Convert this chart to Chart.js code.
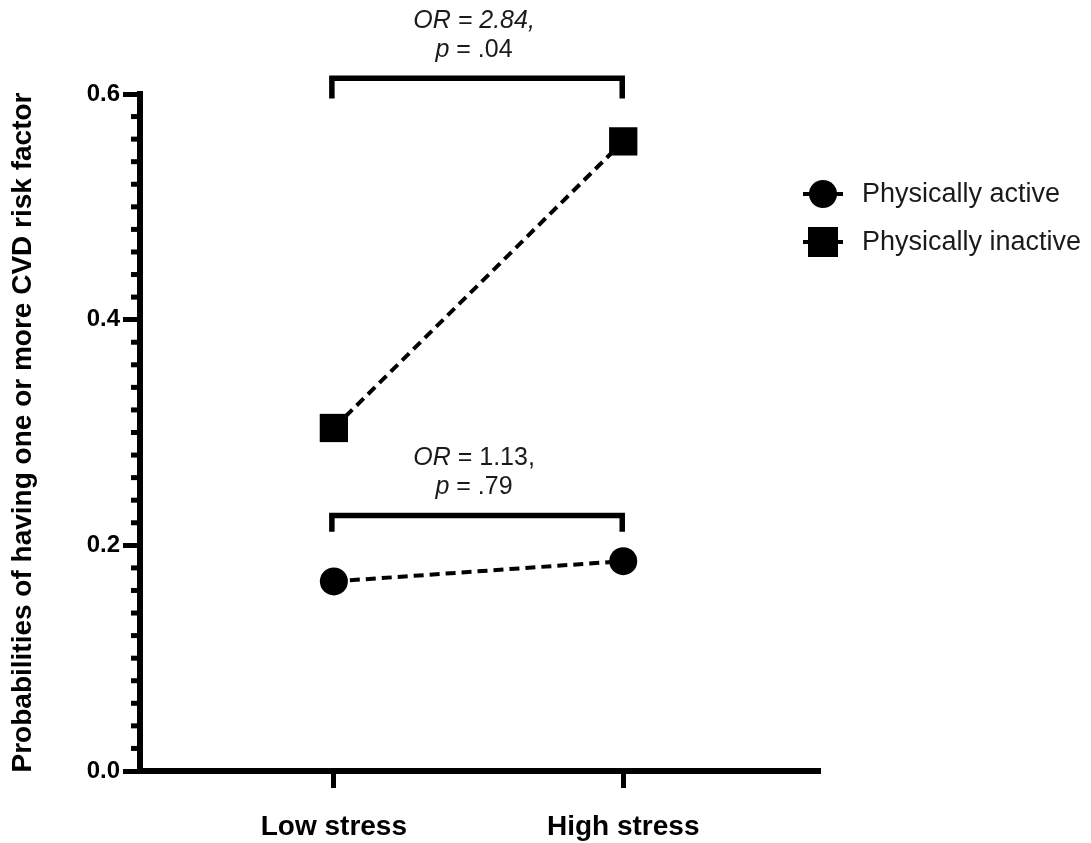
<!DOCTYPE html>
<html>
<head>
<meta charset="utf-8">
<script src="https://cdn.jsdelivr.net/npm/chart.js@4.4.1/dist/chart.umd.min.js"></script>
<style>
  html, body { margin: 0; padding: 0; background: #fff; }
  canvas { display: block; }
</style>
</head>
<body>
<canvas id="chart" width="1091" height="843"></canvas>
<script>
// values
const categories = ["Low stress", "High stress"];
const seriesNames = ["Physically active", "Physically inactive"];
const activeValues = [0.168, 0.186];
const inactiveValues = [0.304, 0.558];
const yTitle = "Probabilities of having one or more CVD risk factor";

// comparison notes: lines of [text, italic] pieces
const inactiveNote = [[["OR = 2.84,", true]], [["p", true], [" = .04", false]]];
const activeNote = [[["OR", true], [" = 1.13,", false]], [["p", true], [" = .79", false]]];

const FONT = '"Liberation Sans", Arial, sans-serif';

// brackets above each pair (y in data units)
const brackets = [
  { top: 0.614, leg: 0.596, note: inactiveNote },
  { top: 0.2265, leg: 0.212, note: activeNote },
];

const toPoints = vals => vals.map((v, i) => ({ x: i, y: v }));

// small unlabeled ticks every 0.02 on the y axis
const minorTicks = {
  id: "minorTicks",
  afterDraw(chart) {
    const { ctx, chartArea, scales: { y } } = chart;
    ctx.save();
    ctx.strokeStyle = "#000";
    ctx.lineWidth = 5;
    for (let i = 0; i <= 30; i++) {
      if (i % 10 === 0) continue;
      const py = y.getPixelForValue(i * 0.02);
      ctx.beginPath();
      ctx.moveTo(chartArea.left - 9, py);
      ctx.lineTo(chartArea.left - 3, py);
      ctx.stroke();
    }
    ctx.restore();
  }
};

function drawNoteLine(ctx, pieces, cx, cy) {
  const fonts = pieces.map(p => (p[1] ? "italic " : "") + "25px " + FONT);
  let total = 0;
  const widths = pieces.map((p, i) => {
    ctx.font = fonts[i];
    const w = ctx.measureText(p[0]).width;
    total += w;
    return w;
  });
  let x = cx - total / 2;
  ctx.textAlign = "left";
  ctx.textBaseline = "middle";
  pieces.forEach((p, i) => {
    ctx.font = fonts[i];
    ctx.fillText(p[0], x, cy);
    x += widths[i];
  });
}

const notes = {
  id: "notes",
  afterDraw(chart) {
    const { ctx, scales: { x, y } } = chart;
    ctx.save();
    ctx.fillStyle = "#1a1a1a";
    ctx.strokeStyle = "#000";
    ctx.lineWidth = 5.5;
    ctx.lineJoin = "miter";
    brackets.forEach(b => {
      const x0 = x.getPixelForValue(0) - 2;
      const x1 = x.getPixelForValue(1) - 1;
      const yt = y.getPixelForValue(b.top);
      const yl = y.getPixelForValue(b.leg);
      ctx.beginPath();
      ctx.moveTo(x0, yl);
      ctx.lineTo(x0, yt);
      ctx.lineTo(x1, yt);
      ctx.lineTo(x1, yl);
      ctx.stroke();
      const cx = (x0 + x1) / 2 - 3;
      drawNoteLine(ctx, b.note[0], cx, yt - 57);
      drawNoteLine(ctx, b.note[1], cx, yt - 28);
    });
    ctx.restore();
  }
};

// legend on the right: short line, marker, label
const sideLegend = {
  id: "sideLegend",
  afterDraw(chart) {
    const { ctx } = chart;
    ctx.save();
    chart.data.datasets.forEach((ds, i) => {
      const cy = 194 + i * 48;
      ctx.strokeStyle = "#000";
      ctx.fillStyle = "#000";
      ctx.lineWidth = 4;
      ctx.beginPath();
      ctx.moveTo(803, cy);
      ctx.lineTo(843, cy);
      ctx.stroke();
      if (ds.pointStyle === "rect") {
        ctx.fillRect(823 - 15, cy - 15, 30, 30);
      } else {
        ctx.beginPath();
        ctx.arc(823, cy, 14, 0, Math.PI * 2);
        ctx.fill();
      }
      ctx.fillStyle = "#1a1a1a";
      ctx.font = "27px " + FONT;
      ctx.textAlign = "left";
      ctx.textBaseline = "middle";
      ctx.fillText(ds.label, 862, cy + 1);
    });
    ctx.restore();
  }
};

new Chart(document.getElementById("chart"), {
  type: "line",
  data: {
    datasets: [
      {
        label: seriesNames[0],
        data: toPoints(activeValues),
        borderColor: "#000",
        backgroundColor: "#000",
        borderWidth: 4,
        borderDash: [10, 6],
        pointStyle: "circle",
        pointRadius: 14,
        pointBorderWidth: 0,
        pointBackgroundColor: "#000",
        clip: false,
      },
      {
        label: seriesNames[1],
        data: toPoints(inactiveValues),
        borderColor: "#000",
        backgroundColor: "#000",
        borderWidth: 4,
        borderDash: [10, 6],
        pointStyle: "rect",
        pointRadius: 20,
        pointBorderWidth: 0,
        pointBackgroundColor: "#000",
        clip: false,
      },
    ],
  },
  options: {
    responsive: false,
    animation: false,
    devicePixelRatio: 1,
    layout: { padding: { top: 94, right: 271, left: 0, bottom: 0 } },
    plugins: {
      legend: { display: false },
      tooltip: { enabled: false },
    },
    scales: {
      x: {
        type: "linear",
        min: -0.67,
        max: 1.68,
        afterBuildTicks: s => { s.ticks = categories.map((c, i) => ({ value: i })); },
        afterFit: s => { s.height = 72; },
        ticks: {
          callback: v => categories[v] ?? "",
          color: "#000",
          padding: 22,
          maxRotation: 0,
          font: { family: FONT, size: 28, weight: "bold" },
        },
        grid: { drawOnChartArea: false, tickLength: 17, tickWidth: 5, tickColor: "#000" },
        border: { display: true, width: 6, color: "#000" },
      },
      y: {
        min: 0,
        max: 0.6,
        afterFit: s => { s.width = 140; },
        ticks: {
          stepSize: 0.2,
          callback: v => Number(v).toFixed(1),
          color: "#000",
          padding: 3,
          font: { family: FONT, size: 24, weight: "bold" },
        },
        grid: { drawOnChartArea: false, tickLength: 17, tickWidth: 5, tickColor: "#000" },
        border: { display: true, width: 6, color: "#000" },
        title: {
          display: true,
          text: yTitle,
          color: "#000",
          padding: { top: 6, bottom: 0 },
          font: { family: FONT, size: 28, weight: "bold" },
        },
      },
    },
  },
  plugins: [minorTicks, notes, sideLegend],
});
</script>
</body>
</html>
